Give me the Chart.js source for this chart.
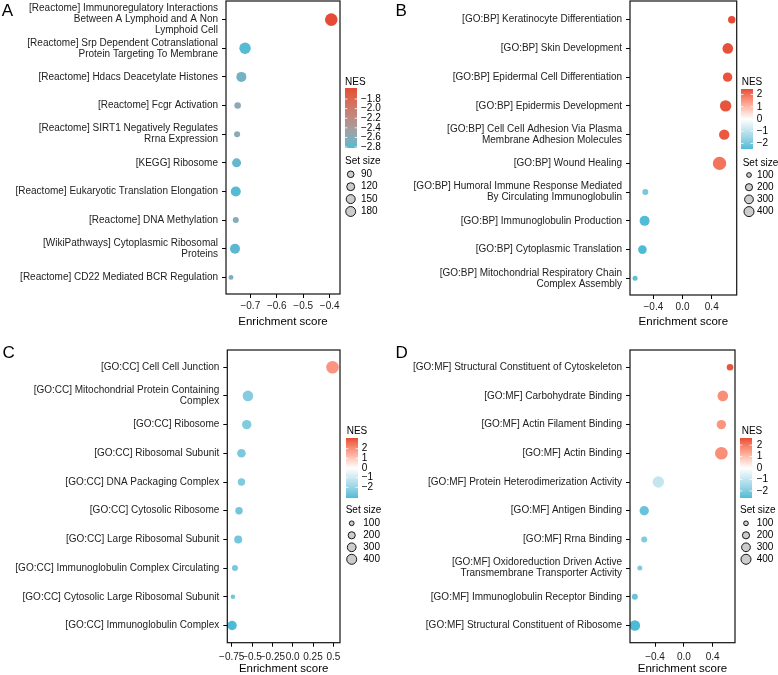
<!DOCTYPE html>
<html><head><meta charset="utf-8">
<script src="https://cdn.jsdelivr.net/npm/chart.js@4/dist/chart.umd.min.js"></script>
<style>
body{margin:0;background:#fff;width:778px;height:675px;position:relative;overflow:hidden;font-family:"Liberation Sans",Arial,sans-serif}
canvas{position:absolute}
.tag{position:absolute;font-size:17px;line-height:17px;color:#000;font-family:"Liberation Sans",Arial,sans-serif}
</style></head><body>
<canvas id="cA" width="390" height="345" style="left:0;top:-10px"></canvas>
<canvas id="cB" width="388" height="345" style="left:390px;top:-10px"></canvas>
<canvas id="cC" width="390" height="345" style="left:0;top:335px"></canvas>
<canvas id="cD" width="388" height="345" style="left:390px;top:335px"></canvas>
<div class="tag" style="left:1.7px;top:1.6px">A</div>
<div class="tag" style="left:395.4px;top:1.6px">B</div>
<div class="tag" style="left:2.5px;top:343.6px">C</div>
<div class="tag" style="left:395.4px;top:343.6px">D</div>
<script>
// ---------------- DATA ----------------
const termsA = [["[Reactome] Immunoregulatory Interactions","Between A Lymphoid and A Non","Lymphoid Cell"],
  ["[Reactome] Srp Dependent Cotranslational","Protein Targeting To Membrane"],
  "[Reactome] Hdacs Deacetylate Histones","[Reactome] Fcgr Activation",
  ["[Reactome] SIRT1 Negatively Regulates","Rrna Expression"],"[KEGG] Ribosome",
  "[Reactome] Eukaryotic Translation Elongation","[Reactome] DNA Methylation",
  ["[WikiPathways] Cytoplasmic Ribosomal","Proteins"],"[Reactome] CD22 Mediated BCR Regulation"];
const esA = [-0.394,-0.72,-0.734,-0.748,-0.75,-0.752,-0.755,-0.755,-0.758,-0.773];
const nesA = [-1.57,-2.8,-2.7,-2.58,-2.58,-2.75,-2.8,-2.62,-2.78,-2.66];
const sizeA = [200,165,130,71,65,109,130,65,130,56];
const xTicksA = [-0.7,-0.6,-0.5,-0.4];
const xLabelsA = ["\u22120.7","\u22120.6","\u22120.5","\u22120.4"];
const nesTicksA = [-1.8,-2.0,-2.2,-2.4,-2.6,-2.8];
const nesLabelsA = ["\u22121.8","\u22122.0","\u22122.2","\u22122.4","\u22122.6","\u22122.8"];
const sizeBreaksA = [90,120,150,180];

const termsB = ["[GO:BP] Keratinocyte Differentiation","[GO:BP] Skin Development",
  "[GO:BP] Epidermal Cell Differentiation","[GO:BP] Epidermis Development",
  ["[GO:BP] Cell Cell Adhesion Via Plasma","Membrane Adhesion Molecules"],"[GO:BP] Wound Healing",
  ["[GO:BP] Humoral Immune Response Mediated","By Circulating Immunoglobulin"],
  "[GO:BP] Immunoglobulin Production","[GO:BP] Cytoplasmic Translation",
  ["[GO:BP] Mitochondrial Respiratory Chain","Complex Assembly"]];
const esB = [0.674,0.62,0.617,0.59,0.571,0.507,-0.51,-0.52,-0.55,-0.65];
const nesB = [2.45,2.4,2.35,2.35,2.3,1.95,-2.0,-2.4,-2.45,-2.3];
const sizeB = [151,305,238,354,293,500,107,270,200,85];
const xTicksB = [-0.4,0.0,0.4];
const xLabelsB = ["\u22120.4","0.0","0.4"];

const termsC = ["[GO:CC] Cell Cell Junction",["[GO:CC] Mitochondrial Protein Containing","Complex"],
  "[GO:CC] Ribosome","[GO:CC] Ribosomal Subunit","[GO:CC] DNA Packaging Complex",
  "[GO:CC] Cytosolic Ribosome","[GO:CC] Large Ribosomal Subunit",
  "[GO:CC] Immunoglobulin Complex Circulating","[GO:CC] Cytosolic Large Ribosomal Subunit",
  "[GO:CC] Immunoglobulin Complex"];
const esC = [0.49,-0.55,-0.565,-0.63,-0.63,-0.66,-0.67,-0.71,-0.735,-0.745];
const nesC = [1.9,-2.3,-2.35,-2.5,-2.4,-2.6,-2.6,-2.5,-2.6,-3.1];
const sizeC = [438,305,238,200,151,151,174,107,78,238];
const xTicksC = [-0.75,-0.5,-0.25,0.0,0.25,0.5];
const xLabelsC = ["\u22120.75","\u22120.5","\u22120.25","0.0","0.25","0.5"];

const termsD = ["[GO:MF] Structural Constituent of Cytoskeleton","[GO:MF] Carbohydrate Binding",
  "[GO:MF] Actin Filament Binding","[GO:MF] Actin Binding",
  "[GO:MF] Protein Heterodimerization Activity","[GO:MF] Antigen Binding","[GO:MF] Rrna Binding",
  ["[GO:MF] Oxidoreduction Driven Active","Transmembrane Transporter Activity"],
  "[GO:MF] Immunoglobulin Receptor Binding","[GO:MF] Structural Constituent of Ribosome"];
const esD = [0.64,0.54,0.52,0.52,-0.354,-0.55,-0.55,-0.61,-0.68,-0.68];
const nesD = [2.5,1.7,1.6,1.7,-1.0,-2.3,-2.0,-2.0,-2.3,-2.62];
const sizeD = [124,305,238,438,354,238,107,85,107,305];
const xTicksD = [-0.4,0.0,0.4];
const xLabelsD = ["\u22120.4","0.0","0.4"];

const nesTicksDiv = [2,1,0,-1,-2];
const nesLabelsDiv = ["2","1","0","\u22121","\u22122"];
const sizeBreaksGO = [100,200,300,400];

// ---------------- STYLE HELPERS ----------------
const FAM = '"Liberation Sans", Arial, sans-serif';
const RED = '#E64B35', BLUE = '#4DBBD5', WHITE = '#FFFFFF';
function hex2rgb(h){return [1,3,5].map(i=>parseInt(h.substr(i,2),16));}
function rgb2lab(c){const f=v=>{v/=255;return v<=0.04045?v/12.92:Math.pow((v+0.055)/1.055,2.4)};
  const R=f(c[0]),G=f(c[1]),B=f(c[2]);
  let X=(R*0.4124+G*0.3576+B*0.1805)/0.95047,Y=R*0.2126+G*0.7152+B*0.0722,Z=(R*0.0193+G*0.1192+B*0.9505)/1.08883;
  const g=t=>t>0.008856?Math.cbrt(t):(7.787*t+16/116);X=g(X);Y=g(Y);Z=g(Z);
  return [116*Y-16,500*(X-Y),200*(Y-Z)];}
function lab2rgb(l){let Y=(l[0]+16)/116,X=l[1]/500+Y,Z=Y-l[2]/200;
  const h=t=>t*t*t>0.008856?t*t*t:(t-16/116)/7.787;X=h(X)*0.95047;Y=h(Y);Z=h(Z)*1.08883;
  const R=X*3.2406-Y*1.5372-Z*0.4986,G=-X*0.9689+Y*1.8758+Z*0.0415,B=X*0.0557-Y*0.2040+Z*1.0570;
  const f=c=>{c=c<=0.0031308?12.92*c:1.055*Math.pow(c,1/2.4)-0.055;return Math.round(Math.max(0,Math.min(1,c))*255)};
  return 'rgb('+f(R)+','+f(G)+','+f(B)+')';}
function mixLab(c1,c2,t){t=Math.max(0,Math.min(1,t));const a=rgb2lab(hex2rgb(c1)),b=rgb2lab(hex2rgb(c2));
  return lab2rgb(a.map((v,i)=>v+(b[i]-v)*t));}
const seqColor=(lo,hi)=>v=>mixLab(BLUE,RED,(v-lo)/(hi-lo));
const divColor=lim=>v=>v>=0?mixLab(WHITE,RED,v/lim):mixLab(WHITE,BLUE,-v/lim);
const radiusA=s=>1.5+4.8*Math.sqrt(Math.max(0,(s-50)/150));
const radiusGO=s=>1.2+5.5*Math.sqrt(Math.max(0,(s-60)/440));
const LEG_SCALE=0.83;

const boxPlugin={id:'box',afterDatasetsDraw(chart){const {ctx,chartArea:a}=chart;ctx.save();
  ctx.strokeStyle='#111';ctx.lineWidth=1.2;ctx.strokeRect(a.left,a.top,a.right-a.left,a.bottom-a.top);ctx.restore();}};

function legendPlugin(cfg){return {id:'leg',afterDraw(chart){
  const ctx=chart.ctx,L=cfg.leg;ctx.save();
  ctx.fillStyle='#000';ctx.textBaseline='middle';ctx.textAlign='left';
  ctx.font='10px '+FAM;ctx.fillText('NES',L.nesX,L.nesY);
  const bh=60,bw=12;
  const yOf=v=>L.barY+bh-(v-cfg.barLo)/(cfg.barHi-cfg.barLo)*bh;
  const grad=ctx.createLinearGradient(0,L.barY,0,L.barY+bh);
  for(let k=0;k<=40;k++){const t=k/40;grad.addColorStop(t,cfg.color(cfg.barHi-t*(cfg.barHi-cfg.barLo)));}
  ctx.fillStyle=grad;ctx.fillRect(L.barX,L.barY,bw,bh);
  ctx.strokeStyle='#fff';ctx.lineWidth=0.8;
  cfg.nesTicks.forEach((v,i)=>{const y=yOf(v);
    ctx.beginPath();ctx.moveTo(L.barX,y);ctx.lineTo(L.barX+2.4,y);ctx.moveTo(L.barX+bw-2.4,y);ctx.lineTo(L.barX+bw,y);ctx.stroke();
    ctx.fillStyle='#000';ctx.fillText(cfg.nesLabels[i],L.labX,y);});
  ctx.fillStyle='#000';ctx.fillText('Set size',L.sizeX,L.sizeY);
  cfg.sizeBreaks.forEach((s,i)=>{const cy=L.cy0+i*L.cyStep;const r=cfg.radius(s)*LEG_SCALE;
    ctx.beginPath();ctx.arc(L.cx,cy,r,0,Math.PI*2);ctx.fillStyle='#cccccc';ctx.fill();
    ctx.strokeStyle='#000';ctx.lineWidth=0.9;ctx.stroke();
    ctx.fillStyle='#000';ctx.fillText(String(s),L.labX2,cy);});
  ctx.restore();}};}

function makePanel(cfg){
  const canvas=document.getElementById(cfg.id);
  const W=canvas.width,H=canvas.height,A=cfg.area;
  const pts=cfg.es.map((x,i)=>({x:x,y:i,r:cfg.radius(cfg.size[i])}));
  new Chart(canvas,{type:'bubble',
    data:{datasets:[{data:pts,backgroundColor:cfg.nes.map(cfg.color),borderWidth:0,hoverBorderWidth:0,hoverRadius:0}]},
    options:{responsive:false,animation:false,events:[],
      layout:{padding:{left:0,top:A.top,right:W-A.right,bottom:0}},
      plugins:{legend:{display:false},tooltip:{enabled:false}},
      scales:{
        x:{type:'linear',min:cfg.xMin,max:cfg.xMax,
          afterBuildTicks:s=>{s.ticks=cfg.xTicks.map(v=>({value:v}));},
          afterFit:s=>{s.height=H-A.bottom;s.paddingLeft=0;s.paddingRight=0;},
          ticks:{callback:(v,i)=>cfg.xLabels[i],font:{family:FAM,size:10},color:'#222',padding:cfg.xTickPad,maxRotation:0,autoSkip:false},
          grid:{drawOnChartArea:false,drawTicks:true,tickLength:4,color:'#000',lineWidth:1},
          border:{display:false},
          title:{display:true,text:'Enrichment score',font:{family:FAM,size:11.5,lineHeight:1.2},color:'#000',padding:{top:0,bottom:cfg.titlePad}}},
        y:{type:'linear',reverse:true,min:cfg.yMin,max:cfg.yMax,
          afterBuildTicks:s=>{s.ticks=cfg.terms.map((_,i)=>({value:i}));},
          afterFit:s=>{s.width=A.left;s.paddingTop=0;s.paddingBottom=0;},
          ticks:{callback:v=>cfg.terms[v],font:{family:FAM,size:10,lineHeight:1.1},color:'#222',padding:4,autoSkip:false},
          grid:{drawOnChartArea:false,drawTicks:true,tickLength:4,color:'#000',lineWidth:1},
          border:{display:false}}}},
    plugins:[boxPlugin,legendPlugin(cfg)]});
}

makePanel({id:'cA',terms:termsA,es:esA,nes:nesA,size:sizeA,xTicks:xTicksA,xLabels:xLabelsA,
  xMin:-0.792,xMax:-0.361,yMin:-0.65,yMax:9.58,area:{left:226,right:340,top:11,bottom:304},
  xTickPad:2.7,titlePad:5.8,radius:radiusA,color:seqColor(-2.82,-1.57),barLo:-2.82,barHi:-1.57,
  nesTicks:nesTicksA,nesLabels:nesLabelsA,sizeBreaks:sizeBreaksA,
  leg:{nesX:345,nesY:92,barX:345,barY:98,labX:361,sizeX:345,sizeY:171.7,cx:350.7,cy0:184.3,cyStep:12.4,labX2:361}});
makePanel({id:'cB',terms:termsB,es:esB,nes:nesB,size:sizeB,xTicks:xTicksB,xLabels:xLabelsB,
  xMin:-0.72,xMax:0.742,yMin:-0.65,yMax:9.58,area:{left:240,right:346.7,top:11,bottom:305},
  xTickPad:2.3,titlePad:5.8,radius:radiusGO,color:divColor(2.45),barLo:-2.45,barHi:2.45,
  nesTicks:nesTicksDiv,nesLabels:nesLabelsDiv,sizeBreaks:sizeBreaksGO,
  leg:{nesX:351.7,nesY:92.7,barX:351,barY:99,labX:366.7,sizeX:352.7,sizeY:173.3,cx:359,cy0:185,cyStep:12.2,labX2:367}});
makePanel({id:'cC',terms:termsC,es:esC,nes:nesC,size:sizeC,xTicks:xTicksC,xLabels:xLabelsC,
  xMin:-0.804,xMax:0.582,yMin:-0.6,yMax:9.6,area:{left:227.3,right:340,top:15,bottom:307.7},
  xTickPad:4.6,titlePad:3.8,radius:radiusGO,color:divColor(3.1),barLo:-3.1,barHi:3.1,
  nesTicks:nesTicksDiv,nesLabels:nesLabelsDiv,sizeBreaks:sizeBreaksGO,
  leg:{nesX:346.7,nesY:96.7,barX:346,barY:103,labX:361.7,sizeX:345.7,sizeY:175.7,cx:351.7,cy0:188.3,cyStep:12,labX2:363.3}});
makePanel({id:'cD',terms:termsD,es:esD,nes:nesD,size:sizeD,xTicks:xTicksD,xLabels:xLabelsD,
  xMin:-0.747,xMax:0.709,yMin:-0.6,yMax:9.6,area:{left:240,right:345,top:15,bottom:307.7},
  xTickPad:4.6,titlePad:3.8,radius:radiusGO,color:divColor(2.62),barLo:-2.62,barHi:2.62,
  nesTicks:nesTicksDiv,nesLabels:nesLabelsDiv,sizeBreaks:sizeBreaksGO,
  leg:{nesX:351.7,nesY:96.7,barX:350,barY:103,labX:366.7,sizeX:350,sizeY:175.7,cx:356,cy0:188.3,cyStep:12,labX2:366.7}});
</script>
</body></html>
